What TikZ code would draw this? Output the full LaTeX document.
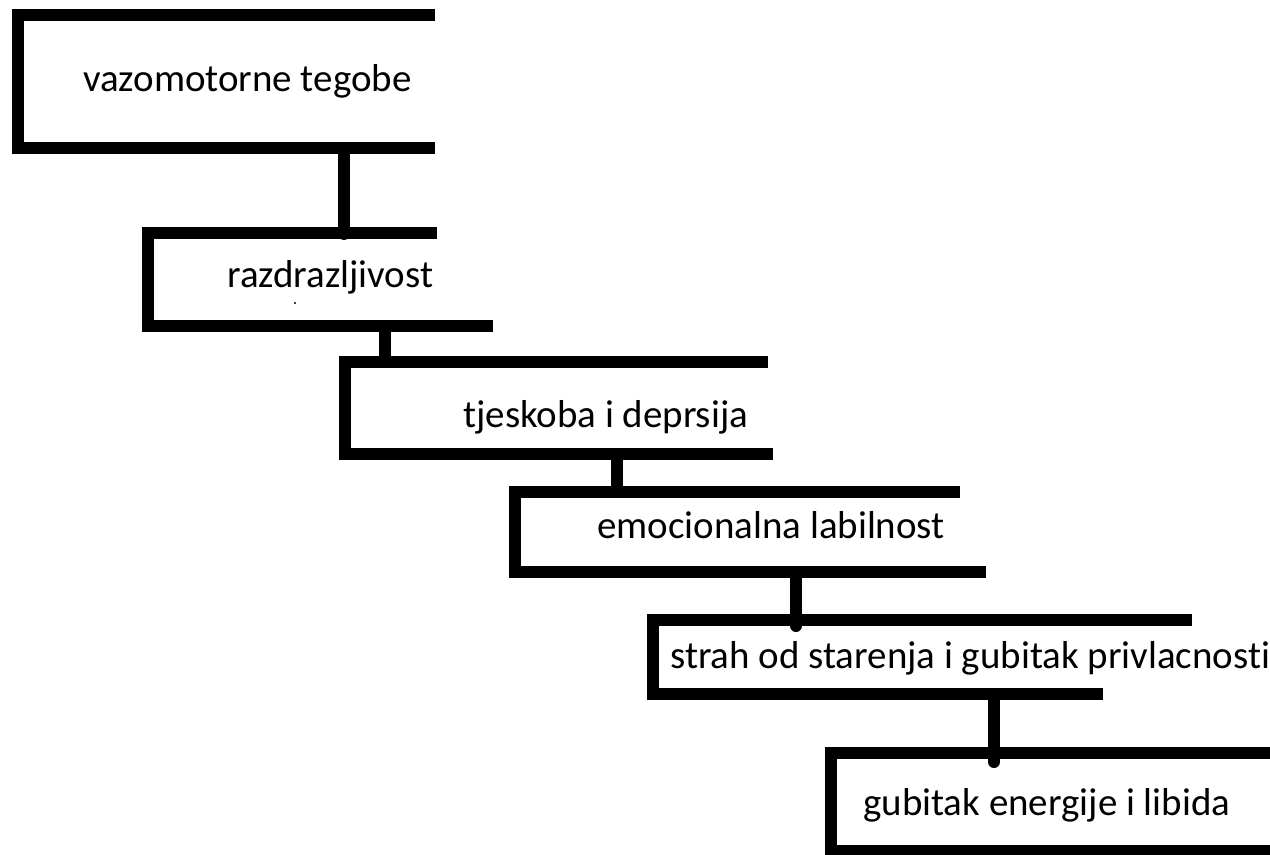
\documentclass[tikz,border=0pt]{standalone}
\usepackage{fontspec}
\setmainfont[Ligatures=NoCommon]{Carlito}
\begin{document}
\begin{tikzpicture}[x=0.75pt,y=-0.75pt,
  bar/.style={line width=9pt,line join=miter,line cap=butt},
  conn/.style={line width=9pt,line cap=round},
  lbl/.style={anchor=base west,inner sep=0pt,font=\fontsize{29.2}{32}\selectfont}]
\useasboundingbox (0,0) rectangle (1270,855);
% boxes (open on the right)
\draw[bar] (435,15.5) -- (18,15.5) -- (18,148) -- (435,148);
\draw[bar] (437,233) -- (148,233) -- (148,326) -- (493,326);
\draw[bar] (768,362) -- (344.5,362) -- (344.5,453.5) -- (773,453.5);
\draw[bar] (960,492) -- (515,492) -- (515,572) -- (986,572);
\draw[bar] (1192,620) -- (653,620) -- (653,694) -- (1103,694);
\draw[bar] (1280,752.5) -- (830.5,752.5) -- (830.5,851) -- (1280,851);
% labels
\node[lbl] (t1) at (83,92) {vazomotorne tegobe};
\node[lbl] (t2) at (227,288) {razdrazljivost};
\node[lbl] (t3) at (463,427) {tjeskoba i deprsija};
\node[lbl] (t4) at (597,538) {emocionalna labilnost};
\node[lbl] (t5) at (670,668) {strah od starenja i gubitak privlacnosti};
\node[lbl] (t6) at (863,815) {gubitak energije i libida};
\fill (295,303) circle (1.2);
% connector end points
\coordinate (c1a) at (344,148); \coordinate (c1b) at (344,234);
\coordinate (c2a) at (385,326); \coordinate (c2b) at (385,362);
\coordinate (c3a) at (617,453.5); \coordinate (c3b) at (617,492);
\coordinate (c4a) at (796,572); \coordinate (c4b) at (796,626);
\coordinate (c5a) at (994,694); \coordinate (c5b) at (994,762);
\draw[conn] (c1a) -- (c1b);
\draw[bar] (c2a) -- (c2b);
\draw[bar] (c3a) -- (c3b);
\draw[conn] (c4a) -- (c4b);
\draw[conn] (c5a) -- (c5b);
\end{tikzpicture}
\end{document}
